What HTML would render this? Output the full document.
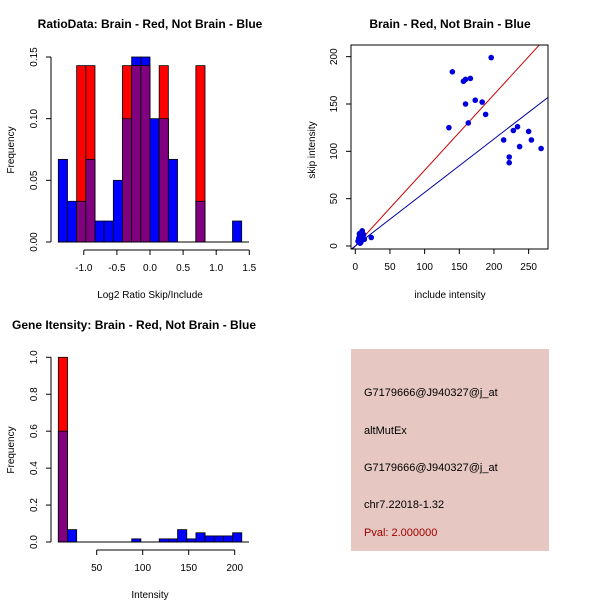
<!DOCTYPE html>
<html><head><meta charset="utf-8"><style>
body{margin:0;background:#fff}
svg{display:block;font-family:"Liberation Sans",Arial,sans-serif}
</style></head><body>
<svg id="s" width="600" height="600" viewBox="0 0 600 600" xmlns="http://www.w3.org/2000/svg">
<rect width="600" height="600" fill="#fff"/>
<g id="p1"></g>
<g id="p2"></g>
<g id="p3"></g>
<g>
<rect x="351" y="349" width="198" height="202" fill="#e6c7c1"/>
<text x="364" y="396" font-size="11">G7179666@J940327@j_at</text>
<text x="364" y="434" font-size="11">altMutEx</text>
<text x="364" y="471" font-size="11">G7179666@J940327@j_at</text>
<text x="364" y="508" font-size="11">chr7.22018-1.32</text>
<text x="364" y="536" font-size="11" fill="#a00000">Pval: 2.000000</text>
</g>
</svg>
<script>
// Plot 1 data
const ratioBlue=[0.067,0.033,0.033,0.067,0.017,0.017,0.05,0.1,0.15,0.15,0.1,0.1,0.067,0,0,0.033,0,0,0,0.017];
const ratioRed=[0,0,0.143,0.143,0,0,0,0.143,0.143,0.143,0,0.143,0,0,0,0.143,0,0,0,0];
const ratioXTicks=[-1.0,-0.5,0.0,0.5,1.0,1.5];
const ratioXTickLabels=["-1.0","-0.5","0.0","0.5","1.0","1.5"];
const ratioYTicks=[0,0.05,0.10,0.15];
const ratioYTickLabels=["0.00","0.05","0.10","0.15"];
// Plot 2 data
const includeX=[140,135,156,159,166,159,163,173,183,188,196,214,222,222,228,234,237,250,254,268,23,4,6,8,10,12,5,7,9,11,6,8,13,10];
const skipY=[184,125,174,176,177,150,130,154,152,139,199,112,94,88,122,126,105,121,112,103,9,5,10,14,16,12,8,3,6,9,13,4,7,11];
const scatterXTicks=[0,50,100,150,200,250];
const scatterYTicks=[0,50,100,150,200];
const redSlope=[0.8];
const blueSlope=[0.565];
// Plot 3 data
const geneBlue=[0.6,0.067,0,0,0,0,0,0,0.017,0,0,0.017,0.017,0.067,0.017,0.05,0.033,0.033,0.033,0.05];
const geneRed=[1.0,0,0,0,0,0,0,0,0,0,0,0,0,0,0,0,0,0,0,0];
const geneXTicks=[50,100,150,200];
const geneYTicks=[0,0.2,0.4,0.6,0.8,1.0];
const geneYTickLabels=["0.0","0.2","0.4","0.6","0.8","1.0"];

const NS="http://www.w3.org/2000/svg";
function mk(p,t,a){const e=document.createElementNS(NS,t);for(const k in a)e.setAttribute(k,a[k]);p.appendChild(e);return e;}
function txt(p,x,y,s,opt){const e=mk(p,'text',Object.assign({x:x,y:y,'font-size':10,'text-anchor':'middle'},opt||{}));e.textContent=s;return e;}

function hist(g,blue,red,xs,ys,x0,bw){
  for(let i=0;i<blue.length;i++){
    const l=xs(x0+i*bw),r=xs(x0+(i+1)*bw);
    const b=blue[i],rd=red[i],m=Math.min(b,rd);
    if(b>0){const e=mk(g,'rect',{x:l,y:ys(b),width:r-l,height:ys(0)-ys(b),fill:'#0000ff',stroke:'#000','stroke-width':0.8});
      }
    if(rd>0){const e=mk(g,'rect',{x:l,y:ys(rd),width:r-l,height:ys(0)-ys(rd),fill:'#ff0000',stroke:'#000','stroke-width':0.8});
      }
    if(m>0){const e=mk(g,'rect',{x:l,y:ys(m),width:r-l,height:ys(0)-ys(m),fill:'#800080',stroke:'#000','stroke-width':0.8});
      }
  }
}
function yaxis(g,ys,ticks,labs,x){
  mk(g,'line',{x1:x,x2:x,y1:ys(ticks[0]),y2:ys(ticks[ticks.length-1]),stroke:'#000'});
  ticks.forEach((t,i)=>{mk(g,'line',{x1:x,x2:x-5,y1:ys(t),y2:ys(t),stroke:'#000'});
    const e=txt(g,x-14,ys(t),labs[i],{transform:`rotate(-90 ${x-14} ${ys(t)})`});
    });
}
function xaxis(g,xs,ticks,labs,y){
  mk(g,'line',{x1:xs(ticks[0]),x2:xs(ticks[ticks.length-1]),y1:y,y2:y,stroke:'#000'});
  ticks.forEach((t,i)=>{mk(g,'line',{x1:xs(t),x2:xs(t),y1:y,y2:y+5,stroke:'#000'});
    const e=txt(g,xs(t),y+21,labs[i]);
    });
}

// Plot 1
(function(){
  const g=document.getElementById('p1');
  const xs=v=>150+v*66.2, ys=v=>242-v*(185/0.15);
  hist(g,ratioBlue,ratioRed,xs,ys,-1.385,0.1385);
  mk(g,'line',{x1:58,x2:249,y1:242,y2:242,stroke:'#000'});
  yaxis(g,ys,ratioYTicks,ratioYTickLabels,51);
  xaxis(g,xs,ratioXTicks,ratioXTickLabels,250);
  let e=txt(g,150,28,'RatioData: Brain - Red, Not Brain - Blue',{'font-size':12,'font-weight':'bold'});
  e=txt(g,150,298,'Log2 Ratio Skip/Include');
  e=txt(g,14,150,'Frequency',{transform:'rotate(-90 14 150)'});
})();

// Plot 2
(function(){
  const g=document.getElementById('p2');
  const xs=v=>355.3+v*0.6933, ys=v=>246-v*0.9467;
  const cp=mk(g,'clipPath',{id:'c2'});mk(cp,'rect',{x:351,y:45,width:197,height:204});
  const lg=mk(g,'g',{'clip-path':'url(#c2)'});
  let e=mk(lg,'line',{x1:xs(-10),y1:ys(-10*redSlope[0]),x2:xs(300),y2:ys(300*redSlope[0]),stroke:'#cc0000','stroke-width':1});
  
  e=mk(lg,'line',{x1:xs(-10),y1:ys(-10*blueSlope[0]),x2:xs(300),y2:ys(300*blueSlope[0]),stroke:'#000099','stroke-width':1});
  
  for(let i=0;i<includeX.length;i++){const c=mk(g,'circle',{cx:xs(includeX[i]),cy:ys(skipY[i]),r:2.8,fill:'#0000dd'});
    }
  mk(g,'rect',{x:351,y:45,width:197,height:204,fill:'none',stroke:'#000'});
  yaxis(g,ys,scatterYTicks,scatterYTicks.map(String),351);
  xaxis(g,xs,scatterXTicks,scatterXTicks.map(String),249);
  e=txt(g,450,28,'Brain - Red, Not Brain - Blue',{'font-size':12,'font-weight':'bold'});
  e=txt(g,450,298,'include intensity');
  e=txt(g,315,150,'skip intensity',{transform:'rotate(-90 315 150)'});
})();

// Plot 3
(function(){
  const g=document.getElementById('p3');
  const xs=v=>96.7+(v-50)*0.92, ys=v=>542-v*184.7;
  hist(g,geneBlue,geneRed,xs,ys,8.3,9.97);
  mk(g,'line',{x1:58,x2:249,y1:542,y2:542,stroke:'#000'});
  yaxis(g,ys,geneYTicks,geneYTickLabels,51);
  xaxis(g,xs,geneXTicks,geneXTicks.map(String),550);
  let e=txt(g,12,329,'Gene Itensity: Brain - Red, Not Brain - Blue',{'font-size':12,'font-weight':'bold','text-anchor':'start'});
  e=txt(g,150,598,'Intensity');
  e=txt(g,14,450,'Frequency',{transform:'rotate(-90 14 450)'});
})();
</script>
</body></html>
